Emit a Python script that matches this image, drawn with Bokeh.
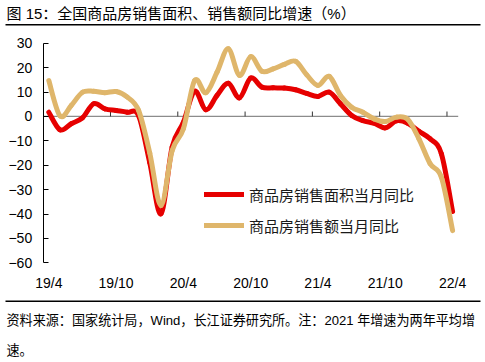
from bokeh.plotting import figure
from bokeh.models import (Range1d, FixedTicker, Legend, LegendItem, Label,
                          LinearAxis)
from bokeh.embed import file_html
from bokeh.resources import INLINE

# month index: 0 = 19/4 ... 36 = 22/4
month_index = list(range(0, 37))
area_yoy = [1.7, -5.5, -3.0, -0.6, 5.2, 3.1, 2.4, 1.7, 0.4,
            -19.0, -39.9, -12.5, -2.4, 10.3, 2.7, 8.6, 13.6, 7.6, 15.7,
            12.0, 11.7, 11.6, 10.9, 9.4, 8.2, 9.9, 5.2, 0.4, -1.7,
            -2.8, -4.7, -1.8, -2.8, -6.1, -9.2, -15.3, -39.0]
sales_yoy = [14.7, 0.2, 4.5, 9.9, 10.3, 9.7, 10.2, 7.9, 2.5,
             -15.0, -36.5, -14.0, -5.1, 14.7, 9.7, 18.1, 27.7, 16.8, 24.5,
             18.5, 19.5, 21.3, 22.6, 17.0, 12.7, 16.4, 8.6, 3.8, 1.7,
             -1.0, -2.1, -0.3, -1.2, -9.2, -19.4, -24.9, -46.8]
series_names = ["商品房销售面积当月同比", "商品房销售额当月同比"]
x_tick_pos = [0, 6, 12, 18, 24, 30, 36]
x_tick_labels = ["19/4", "19/10", "20/4", "20/10", "21/4", "21/10", "22/4"]
y_ticks = [-60, -50, -40, -30, -20, -10, 0, 10, 20, 30]
y_min, y_max = -60, 30

title_text = "图 15：全国商品房销售面积、销售额同比增速（%）"
note_line1 = "资料来源：国家统计局，Wind，长江证券研究所。注：2021 年增速为两年平均增"
note_line2 = "速。"

RED = "#E60000"
GOLD = "#DFB66B"
FONT = "Liberation Sans, Noto Sans CJK SC"
W, H = 485, 362

# plot-area geometry in canvas pixels
AREA_L, AREA_R, AREA_T, AREA_B = 42.7, 457.7, 42.7, 262.3
x_lo, x_hi = x_tick_pos[0] - 0.5, x_tick_pos[-1] + 0.5
ux = (AREA_R - AREA_L) / (x_hi - x_lo)
uy = (AREA_B - AREA_T) / (y_max - y_min)
x_start = x_lo - AREA_L / ux
y_end = y_max + AREA_T / uy

p = figure(width=W, height=H, output_backend="svg", toolbar_location=None,
           x_range=Range1d(x_start, x_lo + (W - AREA_L) / ux),
           y_range=Range1d(y_min - (H - AREA_B) / uy, y_end),
           x_axis_location=None, y_axis_location=None,
           min_border=0, min_border_left=0, min_border_right=0,
           min_border_top=0, min_border_bottom=0)
p.grid.visible = False
p.outline_line_color = None
p.background_fill_color = "white"

yax = LinearAxis(fixed_location=x_lo, bounds=(y_min, y_max),
                 ticker=FixedTicker(ticks=y_ticks),
                 major_tick_in=5, major_tick_out=0,
                 minor_tick_line_color=None, axis_line_color="black",
                 major_tick_line_color="black", major_label_text_font=FONT,
                 major_label_text_font_size="14px",
                 major_label_text_color="black", major_label_standoff=11)
p.add_layout(yax, "left")

xax = LinearAxis(fixed_location=y_min, ticker=FixedTicker(ticks=x_tick_pos),
                 major_label_overrides={k: v for k, v in zip(x_tick_pos, x_tick_labels)},
                 axis_line_color=None, major_tick_line_color=None,
                 minor_tick_line_color=None, major_label_text_font=FONT,
                 major_label_text_font_size="14px",
                 major_label_text_color="black", major_label_standoff=6)
p.add_layout(xax, "below")

# zero line with boundary tick marks
p.segment(x0=[x_lo], y0=[0], x1=[x_hi], y1=[0], line_color="#8c8c8c", line_width=1.3)
bound_ticks = [t - 0.5 for t in x_tick_pos[1:]]
p.segment(x0=bound_ticks, y0=[0] * len(bound_ticks), x1=bound_ticks,
          y1=[2] * len(bound_ticks), line_color="#333333", line_width=1)


def smooth(xs, ys):
    n = len(xs)
    d = dict(x0=[], y0=[], x1=[], y1=[], cx0=[], cy0=[], cx1=[], cy1=[])
    for k in range(n - 1):
        a = max(k - 1, 0)
        b = min(k + 2, n - 1)
        d["x0"].append(xs[k]); d["y0"].append(ys[k])
        d["x1"].append(xs[k + 1]); d["y1"].append(ys[k + 1])
        d["cx0"].append(xs[k] + (xs[k + 1] - xs[a]) / 6)
        d["cy0"].append(ys[k] + (ys[k + 1] - ys[a]) / 6)
        d["cx1"].append(xs[k + 1] - (xs[b] - xs[k]) / 6)
        d["cy1"].append(ys[k + 1] - (ys[b] - ys[k]) / 6)
    return d


r_area = p.bezier(line_color=RED, line_width=5, line_cap="round",
                  **smooth(month_index, area_yoy))
r_sales = p.bezier(line_color=GOLD, line_width=5, line_cap="round",
                   **smooth(month_index, sales_yoy))

legend = Legend(items=[LegendItem(label=series_names[0], renderers=[r_area]),
                       LegendItem(label=series_names[1], renderers=[r_sales])],
                location=(204, 126), padding=0, margin=0, spacing=9,
                glyph_width=40, glyph_height=22, label_height=22,
                label_standoff=5, border_line_color=None,
                background_fill_alpha=0, label_text_font=FONT,
                label_text_font_size="15px", label_text_color="#1a1a1a")
p.add_layout(legend, "center")

# horizontal rules under the title and above the source note (canvas px -> data)
rule_py = [24.3, 300.7]
rule_y = [y_end - py / uy for py in rule_py]
p.segment(x0=[x_start + 5 / ux] * 2, x1=[x_start + 480 / ux] * 2,
          y0=rule_y, y1=rule_y, line_color="black", line_width=1.5)

# title and source note (screen px from the canvas' bottom-left)
p.add_layout(Label(x=6, y=H - 13.0, x_units="screen", y_units="screen",
                   text=title_text, text_font=FONT, text_font_size="15px",
                   text_color="black", text_baseline="middle"))
p.add_layout(Label(x=6, y=H - 320, x_units="screen", y_units="screen",
                   text=note_line1, text_font=FONT, text_font_size="13.1px",
                   text_color="black", text_baseline="middle"))
p.add_layout(Label(x=6, y=H - 349.5, x_units="screen", y_units="screen",
                   text=note_line2, text_font=FONT, text_font_size="13.1px",
                   text_color="black", text_baseline="middle"))

open("out.html", "w").write(file_html(p, INLINE))
